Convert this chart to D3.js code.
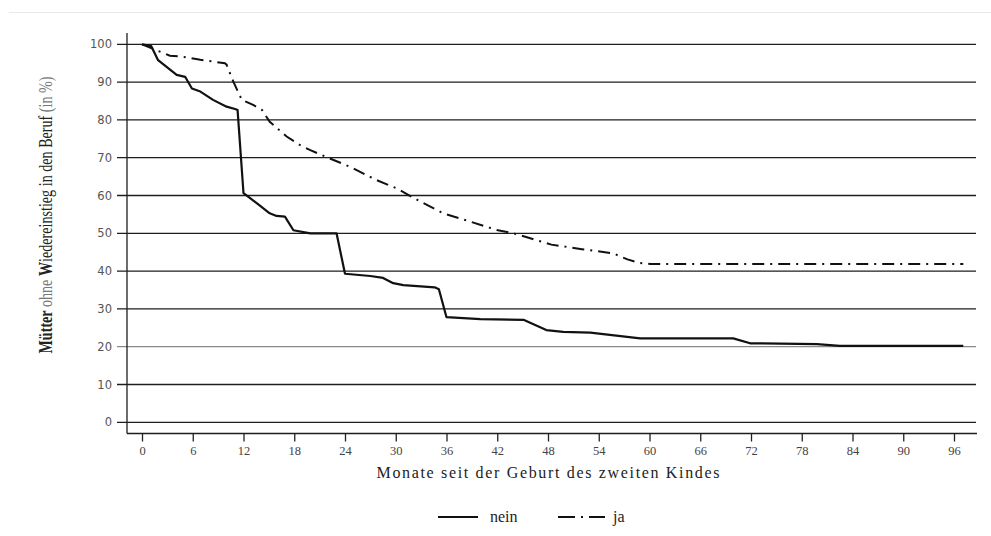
<!DOCTYPE html>
<html>
<head>
<meta charset="utf-8">
<script src="https://cdn.jsdelivr.net/npm/d3@7"></script>
<style>
  html, body { margin: 0; padding: 0; background: #fff; }
  svg { display: block; }
</style>
</head>
<body>
<svg id="chart" width="991" height="536"></svg>
<script>
// Kaplan-Meier style survival: mothers not yet back at work, by months since second child
const yTicks = [0, 10, 20, 30, 40, 50, 60, 70, 80, 90, 100];
const xTicks = [0, 6, 12, 18, 24, 30, 36, 42, 48, 54, 60, 66, 72, 78, 84, 90, 96];

const neinMonths = [0, 1.1, 1.9, 4.1, 5.1, 5.9, 6.9, 8.4, 10.0, 11.0, 11.3, 12.0, 13.6, 15.1, 15.9, 16.9, 17.9, 19.9, 23.0, 24.0, 27.0, 28.5, 29.7, 30.9, 34.6, 35.1, 36.0, 40.0, 45.1, 47.8, 49.8, 53.0, 58.9, 69.9, 71.9, 79.8, 82.5, 97.1];
const neinValues = [100, 99.5, 95.8, 91.9, 91.4, 88.3, 87.5, 85.3, 83.5, 82.9, 82.6, 60.6, 57.9, 55.3, 54.6, 54.4, 50.8, 50.0, 50.0, 39.3, 38.7, 38.2, 36.8, 36.3, 35.7, 35.2, 27.8, 27.3, 27.1, 24.4, 23.9, 23.7, 22.2, 22.2, 20.9, 20.7, 20.2, 20.2];

const jaMonths = [0, 1.5, 3.3, 4.5, 6.9, 9.8, 10.0, 10.8, 11.8, 13.2, 14.2, 15.1, 17.1, 18.7, 19.9, 22.2, 24.6, 27.7, 30.1, 32.9, 35.6, 38.8, 41.9, 43.9, 45.9, 48.4, 52.0, 55.7, 57.4, 58.7, 60.1, 97.1];
const jaValues = [100, 98.6, 97.0, 96.8, 95.9, 95.0, 94.6, 90.1, 85.3, 83.9, 82.6, 79.5, 75.6, 73.3, 72.0, 69.8, 67.6, 64.1, 61.9, 58.4, 55.3, 53.1, 50.9, 50.0, 48.7, 47.0, 45.8, 44.7, 43.1, 42.2, 41.9, 41.9];

const seriesNames = ["nein", "ja"];

const svg = d3.select("#chart");
const serif = "'Liberation Serif', 'DejaVu Serif', serif";

// faint rule across the top of the page
svg.append("line")
  .attr("x1", 9).attr("x2", 991).attr("y1", 12.5).attr("y2", 12.5)
  .attr("stroke", "#e8e8e8").attr("stroke-width", 1);

const x = d3.scaleLinear().domain([0, 96]).range([142, 954]);
const y = d3.scaleLinear().domain([0, 100]).range([422.3, 44.3]);

const axisX = 127;
const axisBottom = 433.5;

// horizontal gridlines with their left tick
const grid = svg.append("g");
grid.selectAll("line").data(yTicks).join("line")
  .attr("x1", 117).attr("x2", 976)
  .attr("y1", d => y(d)).attr("y2", d => y(d))
  .attr("stroke", d => d === 20 ? "#8a8a8a" : "#1e1e1e")
  .attr("stroke-width", 1.3);

// y axis labels via d3 axis (tick lines hidden, gridlines drawn above)
const yAxis = svg.append("g")
  .attr("transform", `translate(${axisX},0)`)
  .call(d3.axisLeft(y).tickValues(yTicks).tickSize(0).tickPadding(15));
yAxis.select(".domain").remove();
yAxis.selectAll("text")
  .attr("font-family", "'DejaVu Sans', Verdana, sans-serif")
  .attr("font-size", 11.5)
  .attr("fill", "#555");

// y axis line
svg.append("line")
  .attr("x1", axisX).attr("x2", axisX).attr("y1", 33).attr("y2", axisBottom)
  .attr("stroke", "#1e1e1e").attr("stroke-width", 1.3);

// x axis
const xAxis = svg.append("g")
  .attr("transform", `translate(0,${axisBottom})`)
  .call(d3.axisBottom(x).tickValues(xTicks).tickSize(8).tickPadding(5));
xAxis.select(".domain").remove();
xAxis.selectAll(".tick line").attr("stroke", "#222").attr("stroke-width", 1.3);
xAxis.selectAll("text")
  .attr("font-family", serif)
  .attr("font-size", 12.5)
  .attr("fill", "#444");
svg.append("line")
  .attr("x1", axisX).attr("x2", 977).attr("y1", axisBottom).attr("y2", axisBottom)
  .attr("stroke", "#1e1e1e").attr("stroke-width", 1.3);

// x axis title
svg.append("text")
  .attr("x", 548).attr("y", 478)
  .attr("text-anchor", "middle")
  .attr("font-family", serif)
  .attr("font-size", 16)
  .attr("fill", "#222")
  .attr("textLength", 343)
  .text("Monate seit der Geburt des zweiten Kindes");

// y axis title with its mixed weights, condensed to fit
const yTitle = svg.append("text")
  .attr("transform", "translate(52,215) rotate(-90)")
  .attr("text-anchor", "middle")
  .attr("font-family", serif)
  .attr("font-size", 18)
  .attr("fill", "#222")
  .attr("textLength", 277)
  .attr("lengthAdjust", "spacingAndGlyphs");
yTitle.append("tspan").attr("font-weight", "bold").text("Mütter ");
yTitle.append("tspan").attr("fill", "#777").text("ohne ");
yTitle.append("tspan").attr("font-weight", "bold").text("W");
yTitle.append("tspan").text("iedereinstieg in den Beruf ");
yTitle.append("tspan").attr("fill", "#777").text("(in %)");

// survival curves
const line = d3.line().x(d => x(d[0])).y(d => y(d[1]));
const nein = d3.zip(neinMonths, neinValues);
const ja = d3.zip(jaMonths, jaValues);

svg.append("path").datum(nein)
  .attr("d", line)
  .attr("fill", "none").attr("stroke", "#111").attr("stroke-width", 2.2)
  .attr("stroke-linejoin", "round");

svg.append("path").datum(ja)
  .attr("d", line)
  .attr("fill", "none").attr("stroke", "#111").attr("stroke-width", 2)
  .attr("stroke-dasharray", "12,6,2,6");

// legend
const legend = svg.append("g").attr("font-family", serif).attr("font-size", 16).attr("fill", "#222");
const legendItems = [
  { name: seriesNames[0], x1: 438, x2: 478, tx: 490, dash: null },
  { name: seriesNames[1], x1: 558, x2: 605, tx: 613, dash: "17,6,2,6" }
];
legendItems.forEach(it => {
  legend.append("line")
    .attr("x1", it.x1).attr("x2", it.x2).attr("y1", 517).attr("y2", 517)
    .attr("stroke", "#111").attr("stroke-width", 2.2)
    .attr("stroke-dasharray", it.dash);
  legend.append("text").attr("x", it.tx).attr("y", 522).text(it.name);
});
</script>
</body>
</html>
